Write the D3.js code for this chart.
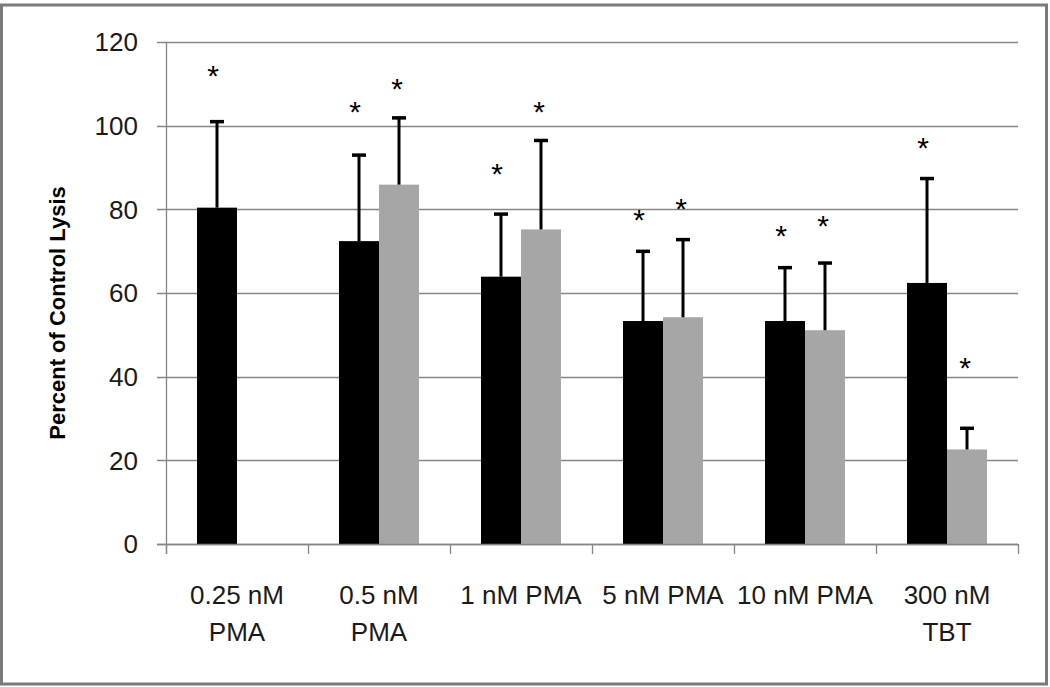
<!DOCTYPE html>
<html><head><meta charset="utf-8">
<script src="https://cdn.jsdelivr.net/npm/d3@7"></script>
<style>body{margin:0;background:#fff}svg{display:block}</style>
</head><body>
<svg id="c" width="1050" height="687"></svg>
<script>
const categories = [["0.25 nM","PMA"],["0.5 nM","PMA"],["1 nM PMA"],["5 nM PMA"],["10 nM PMA"],["300 nM","TBT"]];
const seriesA = [80.4, 72.4, 63.9, 53.3, 53.3, 62.4];
const errA    = [20.8, 20.8, 15.2, 16.9, 13.0, 25.2];
const seriesB = [null, 85.9, 75.2, 54.2, 51.1, 22.6];
const errB    = [null, 16.2, 21.5, 18.8, 16.3, 5.3];
const starA   = [112.6, 104.0, 89.4, 78.3, 74.5, 95.4];
const starB   = [null, 109.7, 104.0, 80.8, 76.8, 43.0];
const yTicks  = [0, 20, 40, 60, 80, 100, 120];
const yTitle  = "Percent of Control Lysis";

const svg = d3.select("#c");
const L = 166, R = 1018, T = 42, B = 544;
const x = d3.scaleBand().domain(d3.range(categories.length)).range([L, R]).paddingInner(0).paddingOuter(0);
const y = d3.scaleLinear().domain([0, 120]).range([B, T]);
const bw = 40;
const FONT = "Liberation Sans, Arial, sans-serif";

svg.append("rect").attr("x", 1.5).attr("y", 5).attr("width", 1045).attr("height", 679)
  .attr("fill", "none").attr("stroke", "#7a7a7a").attr("stroke-width", 3);

// gridlines
svg.append("g").selectAll("line").data(yTicks).join("line")
  .attr("x1", L - 9).attr("x2", R).attr("y1", d => Math.round(y(d)) + 0.5).attr("y2", d => Math.round(y(d)) + 0.5)
  .attr("stroke", "#868686").attr("stroke-width", 1.3);

// y labels
svg.append("g").selectAll("text").data(yTicks).join("text")
  .attr("x", 138).attr("y", d => y(d)).attr("dy", "0.36em").attr("text-anchor", "end")
  .attr("font-family", FONT).attr("font-size", 26).attr("fill", "#1a1a1a")
  .text(d => d);

// y axis line
svg.append("line").attr("x1", L + 0.5).attr("x2", L + 0.5).attr("y1", T).attr("y2", B + 10)
  .attr("stroke", "#868686").attr("stroke-width", 1.3);
// category ticks
svg.append("g").selectAll("line").data(d3.range(categories.length + 1)).join("line")
  .attr("x1", i => (i < categories.length ? x(i) : R) + 0.5).attr("x2", i => (i < categories.length ? x(i) : R) + 0.5)
  .attr("y1", B).attr("y2", B + 10).attr("stroke", "#868686").attr("stroke-width", 1.3);

const cx = i => x(i) + x.bandwidth() / 2;

// bars
svg.append("g").selectAll("rect").data(seriesA).join("rect")
  .attr("x", (d, i) => cx(i) - bw).attr("width", bw).attr("y", d => y(d)).attr("height", d => B - y(d)).attr("fill", "#000");
svg.append("g").selectAll("rect").data(seriesB.map((v, i) => ({v, i})).filter(d => d.v != null)).join("rect")
  .attr("x", d => cx(d.i)).attr("width", bw).attr("y", d => y(d.v)).attr("height", d => B - y(d.v)).attr("fill", "#a6a6a6");

// x axis line (over bars)
svg.append("line").attr("x1", L - 9).attr("x2", R).attr("y1", B + 0.5).attr("y2", B + 0.5)
  .attr("stroke", "#868686").attr("stroke-width", 1.3);

// error bars
function errs(vals, es, off) {
  const g = svg.append("g");
  vals.forEach((v, i) => {
    if (v == null) return;
    const xc = cx(i) + off;
    g.append("line").attr("x1", xc).attr("x2", xc).attr("y1", y(v)).attr("y2", y(v + es[i]))
      .attr("stroke", "#000").attr("stroke-width", 3);
    g.append("line").attr("x1", xc - 7).attr("x2", xc + 7).attr("y1", y(v + es[i]) + 1).attr("y2", y(v + es[i]) + 1)
      .attr("stroke", "#000").attr("stroke-width", 3.5);
  });
}
errs(seriesA, errA, -bw / 2);
errs(seriesB, errB, bw / 2);

// asterisks
function stars(vals, off) {
  svg.append("g").selectAll("text").data(vals.map((v, i) => ({v, i})).filter(d => d.v != null)).join("text")
    .attr("x", d => cx(d.i) + off).attr("y", d => y(d.v)).attr("dy", "0.45em").attr("text-anchor", "middle")
    .attr("font-family", FONT).attr("font-size", 30).attr("fill", "#000")
    .text("*");
}
stars(starA, -bw / 2 - 4);
stars(starB, bw / 2 - 2);

// x labels
const xl = svg.append("g").selectAll("text").data(categories).join("text")
  .attr("x", (d, i) => cx(i)).attr("y", 604).attr("text-anchor", "middle")
  .attr("font-family", FONT).attr("font-size", 26).attr("fill", "#1a1a1a");
xl.selectAll("tspan").data(d => d).join("tspan")
  .attr("x", function() { return d3.select(this.parentNode).attr("x"); })
  .attr("dy", (d, j) => j === 0 ? 0 : 37).text(d => d);

// y title
svg.append("text").attr("transform", "translate(65,313) rotate(-90)").attr("text-anchor", "middle")
  .attr("font-family", FONT).attr("font-weight", "bold").attr("font-size", 22).attr("fill", "#000")
  .text(yTitle);
</script>
</body></html>
